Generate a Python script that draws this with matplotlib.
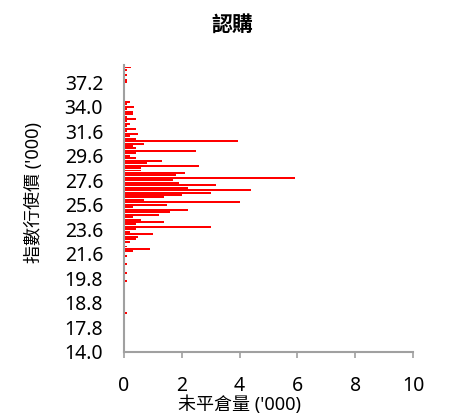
import matplotlib
matplotlib.use('Agg')
import matplotlib.pyplot as plt
import numpy as np

plt.rcParams['font.family'] = ['Noto Sans', 'Noto Sans CJK TC', 'DejaVu Sans']

# strike prices ('000), one per category, bottom to top
strikes = [
    14.0, 15.0, 15.6, 16.0, 16.4, 16.8, 17.0, 17.2, 17.4, 17.6,
    17.8, 17.9, 18.0, 18.1, 18.2, 18.3, 18.4, 18.5, 18.6, 18.7,
    18.8, 18.9, 19.0, 19.1, 19.2, 19.3, 19.4, 19.5, 19.6, 19.7,
    19.8, 19.9, 20.0, 20.2, 20.4, 20.6, 20.8, 21.0, 21.2, 21.4,
    21.6, 21.8, 22.0, 22.2, 22.4, 22.6, 22.8, 23.0, 23.2, 23.4,
    23.6, 23.8, 24.0, 24.2, 24.4, 24.6, 24.8, 25.0, 25.2, 25.4,
    25.6, 25.8, 26.0, 26.2, 26.4, 26.6, 26.8, 27.0, 27.2, 27.4,
    27.6, 27.8, 28.0, 28.2, 28.4, 28.6, 28.8, 29.0, 29.2, 29.4,
    29.6, 29.8, 30.0, 30.2, 30.4, 30.6, 30.8, 31.0, 31.2, 31.4,
    31.6, 31.8, 32.0, 32.2, 32.4, 32.6, 32.8, 33.0, 33.2, 33.6,
    34.0, 34.2, 34.4, 34.6, 34.8, 35.0, 35.4, 35.8, 36.2, 36.6,
    37.2, 37.6, 38.0, 38.4, 38.8, 39.2, 39.6,
]

# open interest ('000)
open_int = [
    0, 0, 0, 0, 0, 0, 0, 0, 0, 0,
    0, 0, 0, 0, 0, 0, 0.1, 0, 0, 0,
    0, 0, 0, 0, 0, 0, 0, 0, 0, 0.1,
    0, 0, 0.1, 0, 0, 0, 0.1, 0, 0, 0.1,
    0, 0.3, 0.9, 0.1, 0.05, 0.2, 0.4, 0.5, 1.0, 0.2,
    0.4, 3.0, 0.4, 1.4, 0.6, 0.3, 1.2, 1.6, 2.2, 0.3,
    1.5, 4.0, 0.7, 1.4, 2.0, 3.0, 4.4, 2.2, 3.2, 1.9,
    1.7, 5.9, 1.8, 2.1, 0.6, 0.6, 2.6, 0.8, 1.3, 0.4,
    0.2, 0.4, 2.5, 0.4, 0.3, 0.7, 3.95, 0.4, 0.2, 0.5,
    0.1, 0.4, 0.1, 0.2, 0.1, 0.4, 0.1, 0.3, 0.3, 0.1,
    0.35, 0.1, 0.2, 0.05, 0.05, 0.05, 0.05, 0, 0, 0,
    0.1, 0.1, 0, 0.1, 0, 0.1, 0.25,
]

pos = np.arange(len(strikes))

fig = plt.figure(figsize=(4.5, 4.17), dpi=100)
ax = fig.add_axes([0.2756, 0.156, 0.6422, 0.688])

ax.barh(pos, open_int, height=0.8, color='#ff0000')

ax.set_xlim(0, 10)
ax.set_ylim(0, len(strikes))
ax.set_xticks([0, 2, 4, 6, 8, 10])
ax.set_yticks(pos[::10])
ax.set_yticklabels(['%.1f' % s for s in strikes[::10]])

for s in ['top', 'right']:
    ax.spines[s].set_visible(False)
for s in ['left', 'bottom']:
    ax.spines[s].set_color('#a0a0a0')
    ax.spines[s].set_linewidth(1.5)

ax.tick_params(axis='x', length=4, width=1.2, color='#a0a0a0', pad=13, labelsize=14)
ax.tick_params(axis='y', length=0, pad=15, labelsize=14)

ax.set_xlabel("未平倉量 ('000)", fontsize=13)
ax.xaxis.set_label_coords(0.40, -0.152)
ax.set_ylabel("指數行使價 ('000)", fontsize=13)
ax.yaxis.set_label_coords(-0.28, 0.557)

fig.text(0.516, 0.94, '認購', fontsize=15, fontweight='bold', ha='center', va='center')

fig.savefig('out.png', dpi=100)
